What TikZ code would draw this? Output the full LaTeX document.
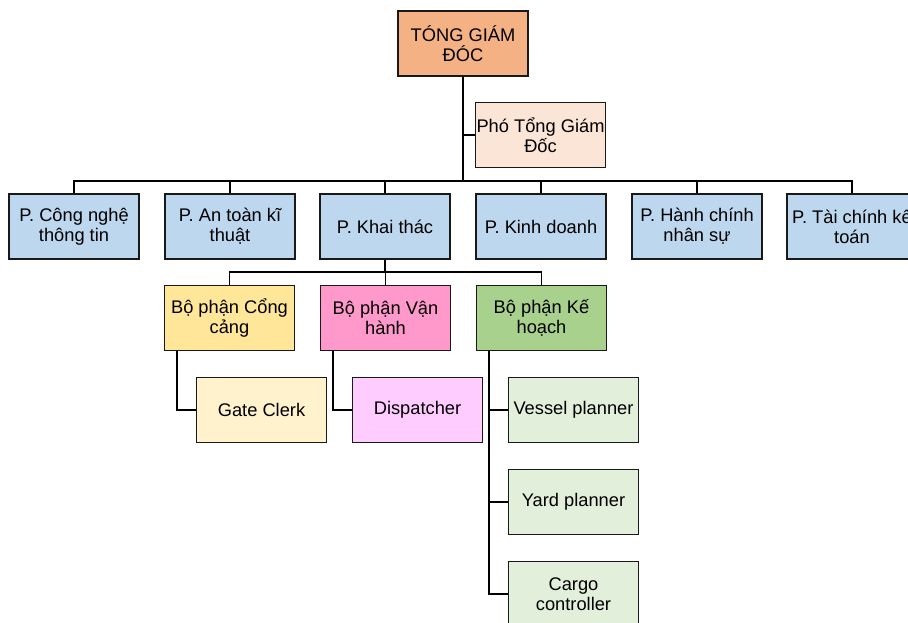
\documentclass[tikz,border=0pt]{standalone}
\usepackage{fontspec}
\setmainfont{Liberation Sans}
\usetikzlibrary{calc}

\definecolor{tgdorange}{HTML}{F4B183}
\definecolor{phopeach}{HTML}{FBE5D6}
\definecolor{phongblue}{HTML}{BDD7EE}
\definecolor{congyellow}{HTML}{FFE699}
\definecolor{vanpink}{HTML}{FF99CC}
\definecolor{kehgreen}{HTML}{A9D18E}
\definecolor{gateyellow}{HTML}{FFF2CC}
\definecolor{disppink}{HTML}{FFCCFF}
\definecolor{planlight}{HTML}{E2EFDA}

\tikzset{
    box/.style={draw=black!90, line width=1.2pt, rectangle, minimum width=3.25cm,
        minimum height=1.625cm, inner xsep=0pt, inner ysep=2pt, align=center,
        font=\fontsize{13}{14.2}\selectfont},
    link/.style={draw=black, line width=1.2pt}
}

\begin{document}
\begin{tikzpicture}
        \useasboundingbox (0,0) rectangle (22.7,-15.55);
        \clip (0,0) rectangle (22.7,-15.55);

        % top
        \node[box, fill=tgdorange] (tgd) at (11.575, -1.0875) {TÓNG GIÁM\\ĐÓC};
        \node[box, fill=phopeach] (pho) at (13.5125, -3.375) {Phó Tổng Giám\\Đốc};

        % phong ban
        \node[box, fill=phongblue] (cntt) at (1.85, -5.6625) {P. Công nghệ\\thông tin};
        \node[box, fill=phongblue] (atkt) at (5.75, -5.6625) {P. An toàn kĩ\\thuật};
        \node[box, fill=phongblue] (khai) at (9.625, -5.6625) {P. Khai thác};
        \node[box, fill=phongblue] (kinh) at (13.525, -5.6625) {P. Kinh doanh};
        \node[box, fill=phongblue] (hcns) at (17.425, -5.6625) {P. Hành chính\\nhân sự};
        \node[box, fill=phongblue] (tckt) at (21.3, -5.6625) {P. Tài chính kế\\toán};

        % bo phan
        \node[box, fill=congyellow] (cong) at (5.7375, -7.95) {Bộ phận Cổng\\cảng};
        \node[box, fill=vanpink] (van) at (9.6375, -7.95) {Bộ phận Vận\\hành};
        \node[box, fill=kehgreen] (keh) at (13.5375, -7.95) {Bộ phận Kế\\hoạch};

        \node[box, fill=gateyellow] (gate) at (6.5375, -10.25) {Gate Clerk};
        \node[box, fill=disppink] (disp) at (10.4375, -10.25) {Dispatcher};
        \node[box, fill=planlight] (vessel) at (14.3375, -10.25) {Vessel planner};
        \node[box, fill=planlight] (yard) at (14.3375, -12.55) {Yard planner};
        \node[box, fill=planlight] (cargo) at (14.3375, -14.85) {Cargo\\controller};

        \coordinate (bus) at (11.575, -4.525);
        \coordinate (bus2) at (9.625, -6.8);
        \coordinate (congtrunk) at ($(cong.south west)+(0.325,0)$);
        \coordinate (vantrunk) at ($(van.south west)+(0.325,0)$);
        \coordinate (kehtrunk) at ($(keh.south west)+(0.325,0)$);

        \draw[link] (tgd.south) -- (bus);
        \draw[link] (tgd.south |- pho.west) -- (pho.west);
        \draw[link] (cntt.north) |- (tckt.north |- bus) -- (tckt.north);
        \foreach \p in {atkt, khai, kinh, hcns}
            \draw[link] (\p.north) -- (\p.north |- bus);

        \draw[link] (khai.south) -- (bus2);
        \draw[link] (cong.north) |- (keh.north |- bus2) -- (keh.north);
        \draw[link] (van.north) -- (van.north |- bus2);

        \draw[link] (congtrunk) |- (gate.west);
        \draw[link] (vantrunk) |- (disp.west);
        \draw[link] (kehtrunk) |- (cargo.west);
        \foreach \p in {vessel, yard}
            \draw[link] (kehtrunk |- \p.west) -- (\p.west);

    \end{tikzpicture}
\end{document}
